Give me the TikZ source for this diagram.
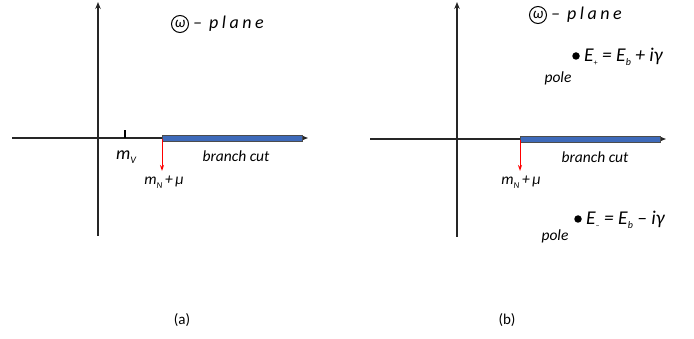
\documentclass[tikz,border=0pt]{standalone}
\usepackage{fontspec}
\setmainfont{Carlito}
\usetikzlibrary{arrows.meta}
\newcommand{\gp}{\hspace{3.5pt}}
\tikzset{
  axis/.style={line width=1.8pt, draw=black!85, -{Stealth[length=7pt,width=5.5pt]}},
  cutbar/.style={fill={rgb,255:red,62;green,106;blue,186}, draw=black!70, line width=0.7pt},
  redarrow/.style={red, line width=1pt, -{Stealth[length=6pt,width=4pt]}},
  lab/.style={font=\itshape\fontsize{15.5}{15.5}\selectfont, inner sep=0pt},
  biglab/.style={font=\itshape\fontsize{19.5}{19.5}\selectfont, inner sep=0pt},
  plane/.style={font=\itshape\fontsize{18}{18}\selectfont, inner sep=0pt},
  caption/.style={font=\fontsize{15}{15}\selectfont, inner sep=0pt},
  circw/.style={circle, draw, line width=1pt, inner sep=0.8pt, minimum size=17pt, font=\itshape\fontsize{15}{15}\selectfont},
  dot/.style={circle, fill=black, inner sep=0pt, minimum size=7.5pt}
}
\begin{document}
\begin{tikzpicture}[x=1pt,y=-1pt]
\useasboundingbox (0,0) rectangle (694,339);
% ---------- panel (a)
\coordinate (aL) at (12,138);
\coordinate (aR) at (308,138);
\coordinate (aB) at (98,236);
\coordinate (aT) at (98,2);
\draw[axis] (aB) -- (aT);
\draw[axis] (aL) -- (aR);
\coordinate (tk0) at (125,138);
\coordinate (tk1) at (125,130);
\draw[line width=1.3pt] (tk0) -- (tk1);
\draw[cutbar] (162,135.5) rectangle (302,141);
\coordinate (ra0) at (162,139);
\coordinate (ra1) at (162,171);
\draw[redarrow] (ra0) -- (ra1);
\node[lab,font=\itshape\fontsize{18}{18}\selectfont] (mv) at (126,157) {m\raisebox{-4pt}{\fontsize{10}{10}\selectfont V}};
\node[lab] (mna) at (164,182) {m\raisebox{-4pt}{\fontsize{9}{9}\selectfont N}\,+\,μ};
\node[lab] (bca) at (236,156) {branch cut};
\node[circw] (wa) at (180,24) {ω};
\node[plane, anchor=west] (pa) at ([xshift=4pt]wa.east) {–\gp\gp p\gp l\gp a\gp n\gp e};
\node[caption] (capa) at (182,320) {(a)};
% ---------- panel (b)
\coordinate (bL) at (370,139);
\coordinate (bR) at (666,139);
\coordinate (bB) at (457,237);
\coordinate (bT) at (457,2);
\draw[axis] (bB) -- (bT);
\draw[axis] (bL) -- (bR);
\draw[cutbar] (520,136.5) rectangle (660,142);
\coordinate (rb0) at (520,140);
\coordinate (rb1) at (520,171);
\draw[redarrow] (rb0) -- (rb1);
\node[lab] (mnb) at (521,182) {m\raisebox{-4pt}{\fontsize{9}{9}\selectfont N}\,+\,μ};
\node[lab] (bcb) at (595,157) {branch cut};
\node[circw] (wb) at (538,15) {ω};
\node[plane, anchor=west] (pb) at ([xshift=4pt]wb.east) {–\gp\gp p\gp l\gp a\gp n\gp e};
\node[dot] (dp) at (576,56) {};
\node[biglab, anchor=west] (ep) at (584,57) {E\raisebox{-4pt}{\fontsize{8}{8}\selectfont +} = E\raisebox{-4pt}{\fontsize{10}{10}\selectfont b} + iγ};
\node[lab] (polep) at (558,78) {pole};
\node[dot] (dm) at (578,219) {};
\node[biglab, anchor=west] (em) at (586,220) {E\raisebox{-4pt}{\fontsize{8}{8}\selectfont –} = E\raisebox{-4pt}{\fontsize{10}{10}\selectfont b} – iγ};
\node[lab] (polem) at (555,236) {pole};
\node[caption] (capb) at (507,320) {(b)};
\end{tikzpicture}
\end{document}
